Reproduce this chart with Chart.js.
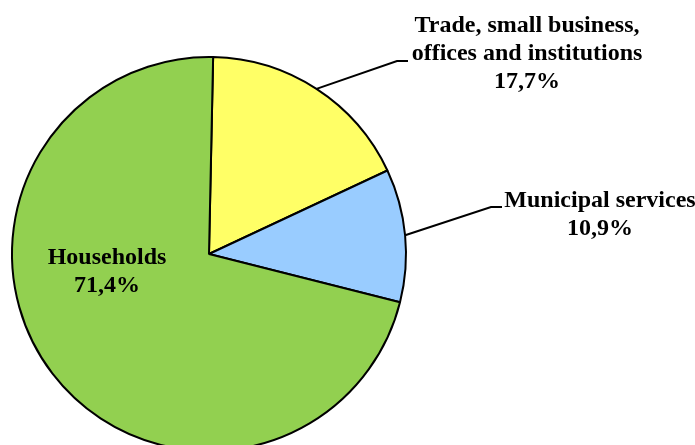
<!DOCTYPE html>
<html>
<head>
<meta charset="utf-8">
<script src="https://cdn.jsdelivr.net/npm/chart.js@4"></script>
<style>
  html, body { margin: 0; padding: 0; background: #fff; overflow: hidden; }
  #wrap { width: 695px; height: 470px; }
</style>
</head>
<body>
<div id="wrap"><canvas id="pieSectores" width="695" height="470"></canvas></div>
<script>
const sectores = ['Trade, small business, offices and institutions', 'Municipal services', 'Households'];
const porcentajes = [17.7, 10.9, 71.4];
const colores = ['#FFFF66', '#99CCFF', '#92D050'];

// texto de cada etiqueta (una línea por elemento) y dónde va
const lineasEtiqueta = [
  ['Trade, small business,', 'offices and institutions'],
  ['Municipal services'],
  ['Households']
];
const posEtiqueta = [
  { x: 527, y: 26, fin: [408, 61] },
  { x: 600, y: 201, fin: [502, 207] },
  { x: 107, y: 258, fin: null }
];

const fmt = v => v.toFixed(1).replace('.', ',') + '%';

const etiquetas = {
  id: 'etiquetas',
  afterDatasetsDraw(chart) {
    const ctx = chart.ctx;
    const arcos = chart.getDatasetMeta(0).data;
    ctx.save();
    ctx.font = 'bold 24px "Liberation Serif", "Times New Roman", serif';
    ctx.fillStyle = '#000';
    ctx.textAlign = 'center';
    ctx.textBaseline = 'middle';
    arcos.forEach((arc, i) => {
      const p = posEtiqueta[i];
      const lineas = lineasEtiqueta[i].concat([fmt(porcentajes[i])]);
      lineas.forEach((t, k) => ctx.fillText(t, p.x, p.y + k * 28));
      if (p.fin) {
        const { x, y, startAngle, endAngle, outerRadius } = arc.getProps(['x', 'y', 'startAngle', 'endAngle', 'outerRadius'], true);
        const a = (startAngle + endAngle) / 2;
        ctx.beginPath();
        ctx.moveTo(x + Math.cos(a) * outerRadius, y + Math.sin(a) * outerRadius);
        ctx.lineTo(p.fin[0] - 11, p.fin[1]);
        ctx.lineTo(p.fin[0], p.fin[1]);
        ctx.lineWidth = 2;
        ctx.strokeStyle = '#000';
        ctx.stroke();
      }
    });
    ctx.restore();
  }
};

new Chart(document.getElementById('pieSectores'), {
  type: 'pie',
  data: {
    labels: sectores,
    datasets: [{
      data: porcentajes,
      backgroundColor: colores,
      borderColor: '#000',
      borderWidth: 2
    }]
  },
  options: {
    responsive: false,
    animation: false,
    rotation: 1.2,
    layout: { padding: { left: 11, right: 288, top: 56, bottom: 18 } },
    plugins: {
      legend: { display: false },
      tooltip: { enabled: false }
    }
  },
  plugins: [etiquetas]
});
</script>
</body>
</html>
